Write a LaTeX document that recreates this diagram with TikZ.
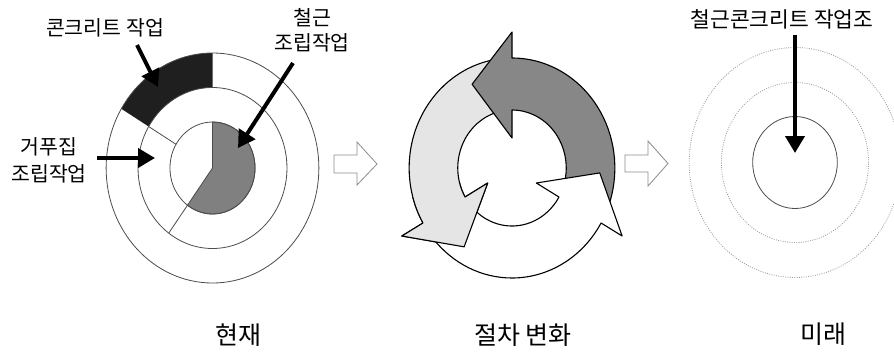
\documentclass[tikz,border=0pt]{standalone}
\usepackage{fontspec}
\newfontfamily\kr{Noto Sans CJK KR}
\usetikzlibrary{arrows.meta}
\begin{document}
\begin{tikzpicture}[x=1pt,y=-1pt,
  thinline/.style={draw=black!70, line width=0.8pt},
  dotline/.style={draw=black!40, line width=0.8pt, dash pattern=on 0.9pt off 1.4pt},
  bigarrow/.style={line width=4pt, -{Triangle[length=17pt,width=19pt]}},
  lbl/.style={font=\kr\fontsize{20.5}{25}\selectfont, align=center, inner sep=0pt},
  caption/.style={font=\kr\fontsize{25}{30}\selectfont, inner sep=0pt},
  cyc/.style={draw=black, line width=1.1pt, line join=round},
  blockarrow/.style={draw=black!45, line width=0.8pt, fill=white, line join=miter}]
\useasboundingbox (0,0) rectangle (894,351);
\fill[white] (0,0) rectangle (894,351);

% ---------- left diagram (present) ----------
\begin{scope}[shift={(212.5,168)}, yscale=-1, xscale=0.925]
  \fill[black!88] (90:80.5) arc[start angle=90,end angle=149,radius=80.5]
     -- (149:115) arc[start angle=149,end angle=90,radius=115] -- cycle;
  \filldraw[fill=black!50, thinline] (0,0) -- (90:46) arc[start angle=90,end angle=-126,radius=46] -- cycle;
  \draw[thinline] (0,0) circle[radius=46];
  \draw[thinline] (0,0) circle[radius=80.5];
  \draw[thinline] (0,0) circle[radius=115];
  \draw[thinline] (149:46) -- (149:80.5);
  \draw[thinline] (234:46) -- (234:80.5);
\end{scope}

\node[lbl] (l1) at (105,28) {콘크리트 작업};
\node[lbl] (l2) at (312,30.5) {철근\\조립작업};
\node[lbl, font=\kr\fontsize{20.5}{27}\selectfont] (l3) at (49,160.5) {거푸집\\조립작업};

\coordinate (t1) at (137,45);  \coordinate (h1) at (158,87);
\coordinate (t2) at (293,63);  \coordinate (h2) at (238,148);
\coordinate (t3) at (97,158);  \coordinate (h3) at (155,158);
\draw[bigarrow] (t1) -- (h1);
\draw[bigarrow] (t2) -- (h2);
\draw[bigarrow] (t3) -- (h3);

% ---------- block arrows ----------
\draw[blockarrow] (334,155) -- (357,155) -- (357,142) -- (377,164) -- (357,185) -- (357,173) -- (334,173) -- cycle;
\draw[blockarrow] (625,155) -- (648,155) -- (648,141) -- (668,163.5) -- (648,186) -- (648,172) -- (625,172) -- cycle;

% ---------- middle diagram (cycle) ----------
\begin{scope}[shift={(512,168)}, yscale=-1, xscale=0.935]
  % light gray
  \filldraw[cyc, fill=black!10] (100:58) arc[start angle=100,end angle=210,radius=58]
     -- (210:30) -- (237:94) -- (210:136) -- (210:110)
     arc[start angle=210,end angle=100,radius=110] -- cycle;
  % dark gray
  \filldraw[cyc, fill=black!47] (-20:58) arc[start angle=-20,end angle=90,radius=58]
     -- (90:30) -- (117:94) -- (90:136) -- (90:110)
     arc[start angle=90,end angle=-20,radius=110] -- cycle;
  % white
  \filldraw[cyc, fill=white] (220:58) arc[start angle=220,end angle=330,radius=58]
     -- (330:30) -- (357:94) -- (330:136) -- (330:110)
     arc[start angle=330,end angle=220,radius=110] -- cycle;
  % light gray head again on top of white tail
  \begin{scope}
    \clip (0,0) -- (195:170) -- (225:170) -- (255:170) -- cycle;
    \filldraw[cyc, fill=black!10] (100:58) arc[start angle=100,end angle=210,radius=58]
       -- (210:30) -- (237:94) -- (210:136) -- (210:110)
       arc[start angle=210,end angle=100,radius=110] -- cycle;
  \end{scope}
\end{scope}

% ---------- right diagram (future) ----------
\begin{scope}[shift={(795,162.5)}, yscale=-1, xscale=0.92]
  \draw[dotline] (0,0) circle[radius=115];
  \draw[dotline] (0,0) circle[radius=80];
  \draw[thinline] (0,0) circle[radius=46];
\end{scope}
\node[lbl, font=\kr\fontsize{21.5}{25}\selectfont] (l4) at (782,19) {철근콘크리트 작업조};
\coordinate (t4) at (795,35); \coordinate (h4) at (795,153);
\draw[bigarrow] (t4) -- (h4);

% ---------- captions ----------
\node[caption] (c1) at (238,335) {현재};
\node[caption] (c2) at (523,335) {절차 변화};
\node[caption] (c3) at (823,334) {미래};
\end{tikzpicture}
\end{document}
